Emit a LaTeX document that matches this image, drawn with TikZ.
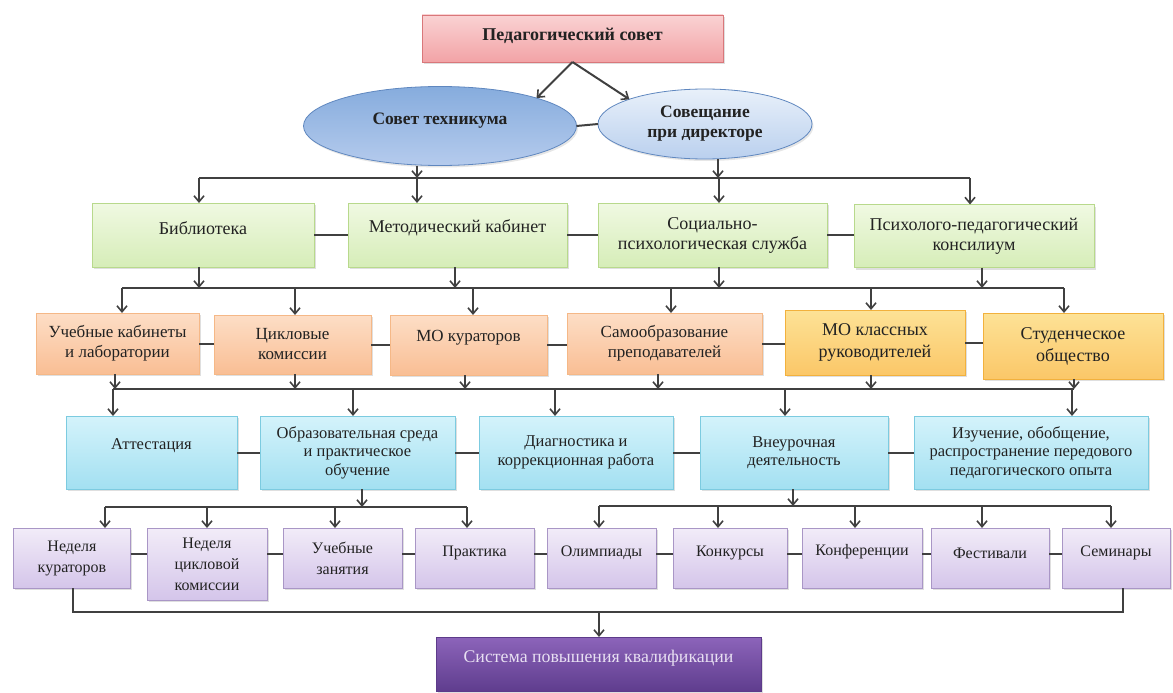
\documentclass[tikz,border=0pt]{standalone}
\usepackage{fontspec}
\setmainfont{Liberation Serif}
\usetikzlibrary{arrows.meta,shapes.geometric,shadows}
\definecolor{txt}{HTML}{222222}
\definecolor{lc}{HTML}{404040}
\definecolor{pkT}{HTML}{FAD2D3}\definecolor{pkB}{HTML}{F2A3A6}\definecolor{pkD}{HTML}{D9777A}
\definecolor{eaT}{HTML}{86ACDD}\definecolor{eaB}{HTML}{B5CBED}\definecolor{eaD}{HTML}{5F87BF}
\definecolor{ebT}{HTML}{E8F0FA}\definecolor{ebB}{HTML}{BAD0EE}
\definecolor{gT}{HTML}{F0F9E2}\definecolor{gB}{HTML}{D6EDB8}\definecolor{gD}{HTML}{B8D98C}
\definecolor{oT}{HTML}{FDDEC6}\definecolor{oB}{HTML}{F9BE94}\definecolor{oD}{HTML}{F5B887}
\definecolor{yT}{HTML}{FDE296}\definecolor{yB}{HTML}{FBC768}\definecolor{yD}{HTML}{F2B13D}
\definecolor{bT}{HTML}{D4F3FB}\definecolor{bB}{HTML}{A3E0F1}\definecolor{bD}{HTML}{7CCBE0}
\definecolor{pT}{HTML}{F2ECF8}\definecolor{pB}{HTML}{D4C5EA}\definecolor{pD}{HTML}{A996C6}
\definecolor{sT}{HTML}{8C64BA}\definecolor{sB}{HTML}{5F3D8E}\definecolor{sD}{HTML}{5D3B8A}\definecolor{sTx}{HTML}{E8E0F2}
\newcommand\upt[2]{\raisebox{#1}[\height][\depth]{#2}}
\begin{document}
\begin{tikzpicture}[x=1pt,y=-1pt,
  every node/.style={inner sep=2pt,outer sep=0pt,text=txt,align=center},
  base/.style={rectangle,line width=0.8pt,shading=axis,
    drop shadow={opacity=0.25,shadow xshift=1.5pt,shadow yshift=-2pt},
    font=\fontsize{17}{20}\selectfont},
  pinkbox/.style={base,draw=pkD,top color=pkT,bottom color=pkB,font=\bfseries\fontsize{18}{20}\selectfont},
  ellA/.style={ellipse,line width=0.8pt,draw=eaD,shading=axis,top color=eaT,bottom color=eaB,
    drop shadow={opacity=0.2,shadow xshift=1.5pt,shadow yshift=-2pt},
    font=\bfseries\fontsize{17.5}{20}\selectfont},
  ellB/.style={ellA,top color=ebT,bottom color=ebB},
  gbox/.style={base,draw=gD,top color=gT,bottom color=gB,font=\fontsize{18}{20}\selectfont},
  obox/.style={base,draw=oD,top color=oT,bottom color=oB},
  ybox/.style={base,line width=1pt,draw=yD,top color=yT,bottom color=yB,font=\fontsize{18}{22}\selectfont},
  bbox/.style={base,draw=bD,top color=bT,bottom color=bB,font=\fontsize{16.5}{18.5}\selectfont},
  pbox/.style={base,draw=pD,top color=pT,bottom color=pB,font=\fontsize{16}{21}\selectfont},
  sbox/.style={base,draw=sD,top color=sT,bottom color=sB,text=sTx,font=\fontsize{17.8}{20}\selectfont},
  ln/.style={draw=lc,line width=2pt},
  arr/.style={ln,-{Straight Barb[length=6pt,width=10pt,line width=1.6pt]}}
]
\useasboundingbox (0,0) rectangle (1173,693);

% top
\node[pinkbox,minimum width=301pt,minimum height=47pt] (ped) at (572.5,38.5) {\upt{3pt}{Педагогический совет}};
\node[ellA,minimum width=273pt,minimum height=79pt,inner sep=0pt] (sov) at (440,126) {\upt{5pt}{Совет техникума}};
\node[ellB,minimum width=214pt,minimum height=70pt,inner sep=0pt] (dir) at (705,124) {Совещание\\при директоре};

% green row
\node[gbox,minimum width=222pt,minimum height=64pt] (bib) at (203,235) {\upt{7pt}{Библиотека}};
\node[gbox,minimum width=219pt,minimum height=64pt] (met) at (457.5,235) {\upt{7pt}{Методический кабинет}};
\node[gbox,minimum width=229pt,minimum height=64pt] (soc) at (712.5,235) {Социально-\\психологическая служба};
\node[gbox,minimum width=240pt,minimum height=63pt] (psy) at (974,236) {Психолого-педагогический\\консилиум};

% orange / yellow row
\node[obox,minimum width=163pt,minimum height=61pt] (uk) at (117.5,343.5) {Учебные кабинеты\\и лаборатории};
\node[obox,minimum width=157pt,minimum height=59pt] (ck) at (292.5,344.5) {Цикловые\\комиссии};
\node[obox,minimum width=157pt,minimum height=60pt] (mk) at (468.5,345) {\upt{7pt}{МО кураторов}};
\node[obox,minimum width=195pt,minimum height=61pt] (so) at (664.5,343.5) {Самообразование\\преподавателей};
\node[ybox,minimum width=180pt,minimum height=65pt] (mkl) at (875,342.5) {МО классных\\руководителей};
\node[ybox,minimum width=180pt,minimum height=66pt] (st) at (1073,346) {Студенческое\\общество};

% blue row
\node[bbox,minimum width=171pt,minimum height=73pt] (att) at (151.5,452.5) {\upt{7pt}{Аттестация}};
\node[bbox,minimum width=195pt,minimum height=73pt] (obr) at (357.5,452.5) {Образовательная среда\\и практическое\\обучение};
\node[bbox,minimum width=194pt,minimum height=73pt] (diag) at (576,452.5) {Диагностика и\\коррекционная работа};
\node[bbox,minimum width=188pt,minimum height=73pt] (vne) at (794,452.5) {Внеурочная\\деятельность};
\node[bbox,minimum width=234pt,minimum height=73pt] (izu) at (1031,452.5) {Изучение, обобщение,\\распространение передового\\педагогического опыта};

% purple row
\node[pbox,minimum width=117pt,minimum height=60pt] (nk) at (72,558) {Неделя\\кураторов};
\node[pbox,minimum width=120pt,minimum height=72pt] (nc) at (207,564) {Неделя\\цикловой\\комиссии};
\node[pbox,minimum width=119pt,minimum height=60pt] (uz) at (342.5,558) {Учебные\\занятия};
\node[pbox,minimum width=119pt,minimum height=60pt] (pr) at (474.5,558) {\upt{5pt}{Практика}};
\node[pbox,minimum width=109pt,minimum height=60pt] (ol) at (601.5,558) {\upt{5pt}{Олимпиады}};
\node[pbox,minimum width=114pt,minimum height=60pt] (ko) at (730,558) {\upt{5pt}{Конкурсы}};
\node[pbox,minimum width=120pt,minimum height=60pt] (kf) at (862,558) {\upt{6pt}{Конференции}};
\node[pbox,minimum width=118pt,minimum height=60pt] (fe) at (990,558) {\upt{5pt}{Фестивали}};
\node[pbox,minimum width=108pt,minimum height=60pt] (se) at (1116,558) {\upt{5pt}{Семинары}};

% bottom
\node[sbox,minimum width=325pt,minimum height=54pt] (sys) at (598.5,664) {\upt{6pt}{Система повышения квалификации}};

% bus coordinates
\coordinate (B1) at (0,178);
\coordinate (B2) at (0,288);
\coordinate (B3) at (0,389);
\coordinate (B4L) at (0,507);
\coordinate (B4R) at (0,506);
\coordinate (B5) at (0,612);
\coordinate (B6) at (0,554);

% top connectors
\draw[arr] (ped.south) -- (sov.north east);
\draw[arr] (ped.south) -- (dir.north west);
\draw[ln] (sov.east) -- (dir.west);
\draw[arr] (417,0 |- sov.south) -- (417,0 |- B1);
\draw[arr] (718,0 |- dir.south) -- (718,0 |- B1);
\draw[ln] (199,0 |- B1) -- (970,0 |- B1);
\foreach \x/\n in {199/bib,417/met,719/soc,970/psy}
  \draw[arr] (\x,0 |- B1) -- (\x,0 |- \n.north);

% green -> orange
\foreach \x/\n in {199/bib,455/met,719/soc,982/psy}
  \draw[arr] (\x,0 |- \n.south) -- (\x,0 |- B2);
\draw[ln] (122,0 |- B2) -- (1064,0 |- B2);
\foreach \x/\n in {122/uk,295/ck,473/mk,671/so,871/mkl,1064/st}
  \draw[arr] (\x,0 |- B2) -- (\x,0 |- \n.north);

% orange -> blue
\foreach \x/\n in {115/uk,295/ck,465/mk,658/so,871/mkl,1074/st}
  \draw[arr] (\x,0 |- \n.south) -- (\x,0 |- B3);
\draw[ln] (113,0 |- B3) -- (1074,0 |- B3);
\foreach \x/\n in {113/att,353/obr,555/diag,785/vne,1072/izu}
  \draw[arr] (\x,0 |- B3) -- (\x,0 |- \n.north);

% blue -> purple
\draw[arr] (362,0 |- obr.south) -- (362,0 |- B4L);
\draw[ln] (105,0 |- B4L) -- (467,0 |- B4L);
\foreach \x/\n in {105/nk,207/nc,335/uz,467/pr}
  \draw[arr] (\x,0 |- B4L) -- (\x,0 |- \n.north);
\draw[arr] (793,0 |- vne.south) -- (793,0 |- B4R);
\draw[ln] (599,0 |- B4R) -- (1111,0 |- B4R);
\foreach \x/\n in {599/ol,718/ko,855/kf,982/fe,1111/se}
  \draw[arr] (\x,0 |- B4R) -- (\x,0 |- \n.north);

% purple -> system
\draw[ln,line join=miter] (73,0 |- nk.south) |- (1123,0 |- B5) -- (1123,0 |- se.south);
\draw[arr] (599,0 |- B5) -- (599,0 |- sys.north);

% horizontal links
\foreach \a/\b in {bib/met,met/soc,soc/psy,uk/ck,ck/mk,mk/so,so/mkl,mkl/st,att/obr,obr/diag,diag/vne,vne/izu}
  \draw[ln] (\a.east) -- (\a.east -| \b.west);
\foreach \a/\b in {nk/nc,nc/uz,uz/pr,pr/ol,ol/ko,ko/kf,kf/fe,fe/se}
  \draw[ln] (\a.east |- B6) -- (\b.west |- B6);
\end{tikzpicture}
\end{document}
